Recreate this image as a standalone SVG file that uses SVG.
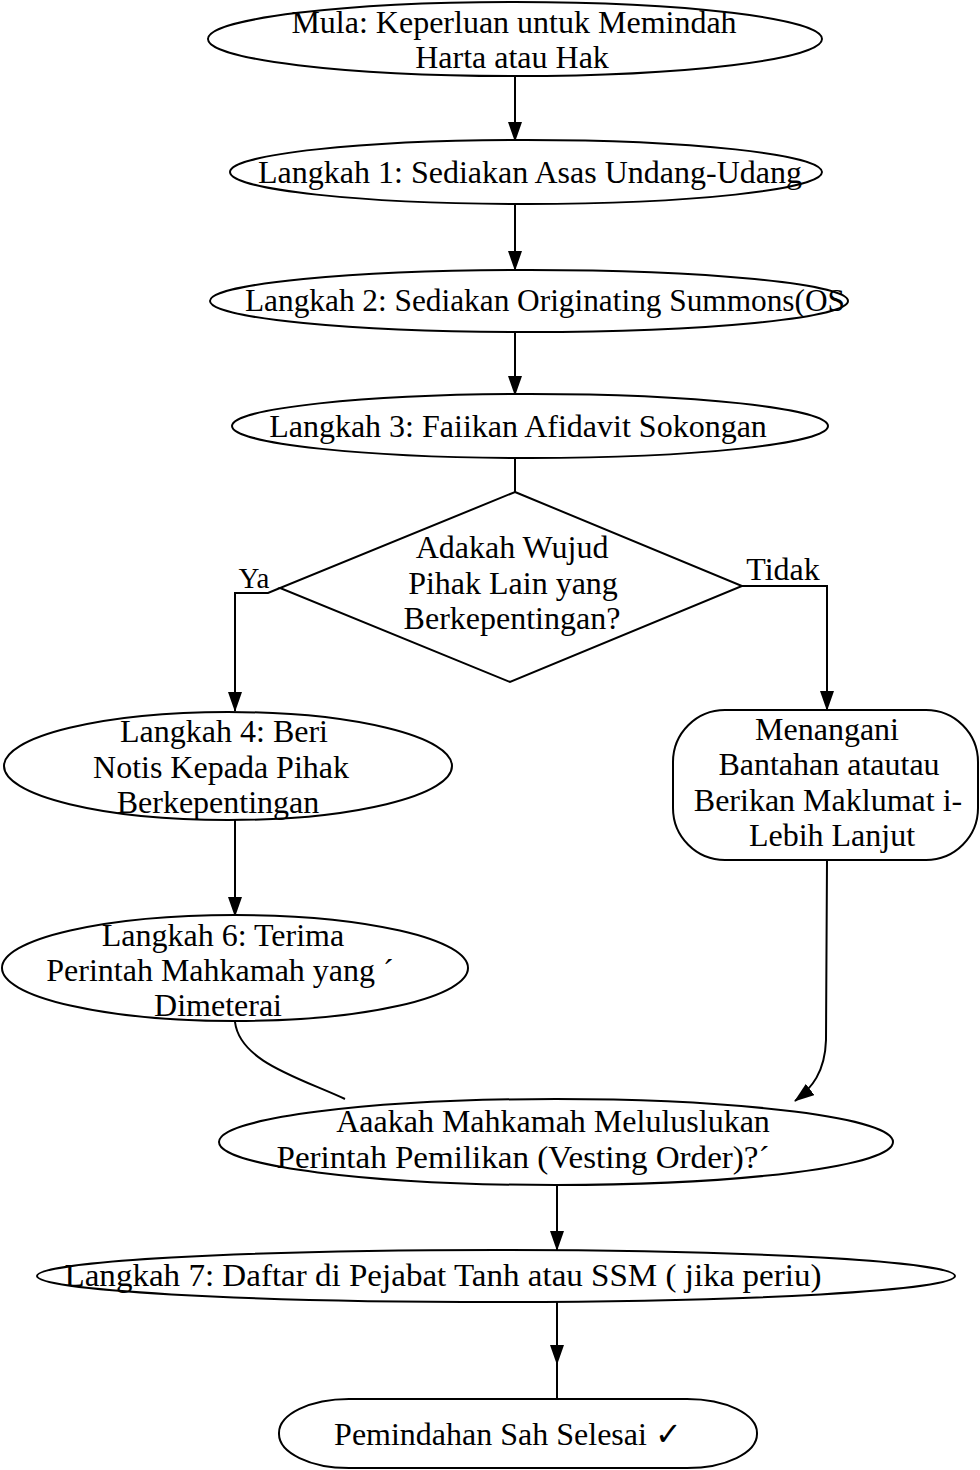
<svg xmlns="http://www.w3.org/2000/svg" width="980" height="1470" viewBox="0 0 980 1470">
<style>
.shape{fill:#ffffff;stroke:#000000;stroke-width:2}
.edge{fill:none;stroke:#000000;stroke-width:2}
text{font-family:"Liberation Serif","DejaVu Serif",serif;font-size:32px;fill:#000000;text-anchor:middle}
</style>
<defs>
<marker id="ah" markerUnits="userSpaceOnUse" markerWidth="20" markerHeight="14" refX="19" refY="7" orient="auto" viewBox="0 0 20 14">
<path d="M0,0 L20,7 L0,14 Z" fill="#000000"/>
</marker>
</defs>
<rect width="980" height="1470" fill="#ffffff"/>
<g id="connectors">
<path class="edge" d="M515,76 L515,141" marker-end="url(#ah)"/>
<path class="edge" d="M515,204 L515,270" marker-end="url(#ah)"/>
<path class="edge" d="M515,332 L515,395" marker-end="url(#ah)"/>
<path class="edge" d="M515,458 L515,492"/>
<path class="edge" d="M280,588 L268,593 L235,593 L235,711" marker-end="url(#ah)"/>
<path class="edge" d="M742,586 L827,586 L827,710" marker-end="url(#ah)"/>
<path class="edge" d="M235,820 L235,916" marker-end="url(#ah)"/>
<path class="edge" d="M235,1022 C240,1062 300,1078 345,1099"/>
<path class="edge" d="M827,860 L826,1040 C825,1072 812,1088 795,1101" marker-end="url(#ah)"/>
<path class="edge" d="M557,1185 L557,1250" marker-end="url(#ah)"/>
<path class="edge" d="M557,1302 L557,1364" marker-end="url(#ah)"/>
<path class="edge" d="M557,1363 L557,1399"/>
<text x="254" y="588" style="font-size:29px">Ya</text>
<text x="783" y="580">Tidak</text>
</g>
<g id="start">
<ellipse class="shape" cx="515" cy="39" rx="307" ry="37"/>
<text x="514" y="33">Mula: Keperluan untuk Memindah</text>
<text x="512" y="68">Harta atau Hak</text>
</g>
<g id="step1">
<ellipse class="shape" cx="526" cy="172" rx="296" ry="32"/>
<text x="530" y="183">Langkah 1: Sediakan Asas Undang-Udang</text>
</g>
<g id="step2">
<ellipse class="shape" cx="529" cy="301" rx="319" ry="31"/>
<text x="545" y="311" textLength="600" lengthAdjust="spacingAndGlyphs">Langkah 2: Sediakan Originating Summons(OS</text>
</g>
<g id="step3">
<ellipse class="shape" cx="530" cy="426" rx="298" ry="32"/>
<text x="518" y="437">Langkah 3: Faiikan Afidavit Sokongan</text>
</g>
<g id="decision1">
<polygon class="shape" points="515,492 742,586 510,682 280,588"/>
<text x="512" y="558">Adakah Wujud</text>
<text x="513" y="594">Pihak Lain yang</text>
<text x="512" y="629">Berkepentingan?</text>
</g>
<g id="step4">
<ellipse class="shape" cx="228" cy="766" rx="224" ry="54"/>
<text x="224" y="742">Langkah 4: Beri</text>
<text x="221" y="778">Notis Kepada Pihak</text>
<text x="218" y="813">Berkepentingan</text>
</g>
<g id="objection">
<rect class="shape" x="673" y="710" width="305" height="150" rx="52" ry="52"/>
<text x="827" y="740">Menangani</text>
<text x="829" y="775">Bantahan atautau</text>
<text x="828" y="811">Berikan Maklumat i-</text>
<text x="832" y="846">Lebih Lanjut</text>
</g>
<g id="step6">
<ellipse class="shape" cx="235" cy="968" rx="233" ry="53"/>
<text x="223" y="946">Langkah 6: Terima</text>
<text x="220" y="981">Perintah Mahkamah yang ´</text>
<text x="218" y="1016">Dimeterai</text>
</g>
<g id="decision2">
<ellipse class="shape" cx="556" cy="1142" rx="337" ry="43"/>
<text x="553" y="1132">Aaakah Mahkamah Meluluslukan</text>
<text x="523" y="1168" textLength="493" lengthAdjust="spacingAndGlyphs">Perintah Pemilikan (Vesting Order)?´</text>
</g>
<g id="step7">
<ellipse class="shape" cx="496" cy="1276" rx="459" ry="26"/>
<text x="443" y="1286" textLength="757" lengthAdjust="spacingAndGlyphs">Langkah 7: Daftar di Pejabat Tanh atau SSM ( jika periu)</text>
</g>
<g id="end">
<rect class="shape" x="279" y="1399" width="478" height="69" rx="70" ry="34"/>
<text x="508" y="1445">Pemindahan Sah Selesai ✓</text>
</g>
</svg>
